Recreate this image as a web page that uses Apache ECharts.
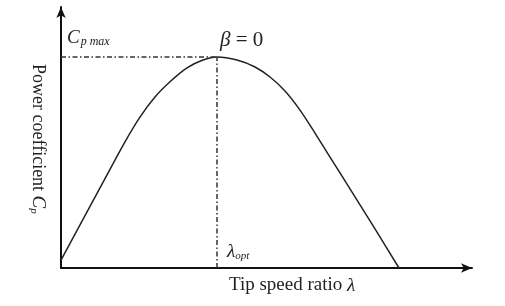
<!DOCTYPE html>
<html>
<head>
<meta charset="utf-8">
<script src="https://cdn.jsdelivr.net/npm/echarts@6/dist/echarts.min.js"></script>
<style>
html,body{margin:0;padding:0;background:#fff;}
#chart{width:505px;height:306px;}
</style>
</head>
<body>
<div id="chart"></div>
<script>
// Tip speed ratio (arbitrary units) and power coefficient values
var lambdaValues = [0, 1.3, 2.133, 2.633, 3.133, 3.633, 4.2, 4.733, 5.2, 5.867, 6.467, 6.967, 7.467, 7.967, 8.467, 8.967, 9.633, 10.467, 11.267];
var cpValues     = [0.018, 0.184, 0.29, 0.347, 0.393, 0.428, 0.46, 0.478, 0.485, 0.478, 0.462, 0.439, 0.407, 0.363, 0.31, 0.255, 0.182, 0.09, 0];
var lambdaOpt = 5.2;
var cpMax = 0.485;
var xMax = 13.7;
var yMax = 0.6;

var seriesData = lambdaValues.map(function (l, i) { return [l, cpValues[i]]; });

var chart = echarts.init(document.getElementById('chart'), null, {renderer: 'canvas'});
var serif = '"Liberation Serif", "DejaVu Serif", serif';
var dashDot = [5, 2.5, 1.5, 2.5];

chart.setOption({
  animation: false,
  backgroundColor: '#fff',
  grid: {left: 61, right: 33, top: 7, bottom: 38, containLabel: false},
  xAxis: {
    type: 'value', min: 0, max: xMax,
    axisLine: {show: true, onZero: false, symbol: ['none', 'arrow'], symbolSize: [7, 11], lineStyle: {color: '#111', width: 2}},
    axisTick: {show: false}, axisLabel: {show: false}, splitLine: {show: false}
  },
  yAxis: {
    type: 'value', min: 0, max: yMax,
    axisLine: {show: true, onZero: false, symbol: ['none', 'arrow'], symbolSize: [7, 11], lineStyle: {color: '#111', width: 2}},
    axisTick: {show: false}, axisLabel: {show: false}, splitLine: {show: false}
  },
  series: [{
    type: 'line',
    data: seriesData,
    smooth: 0.3,
    showSymbol: false,
    lineStyle: {color: '#222', width: 1.5},
    markLine: {
      silent: true,
      symbol: 'none',
      label: {show: false},
      lineStyle: {color: '#333', width: 1.5, type: dashDot},
      data: [
        [{coord: [0, cpMax]}, {coord: [lambdaOpt, cpMax]}],
        [{coord: [lambdaOpt, 0]}, {coord: [lambdaOpt, cpMax]}]
      ]
    }
  }],
  graphic: [
    {
      type: 'text', x: 67, y: 27,
      style: {
        text: '{c|C}{s|p max}',
        rich: {
          c: {fontFamily: serif, fontStyle: 'italic', fontSize: 19, fill: '#222'},
          s: {fontFamily: serif, fontStyle: 'italic', fontSize: 12, fill: '#222', padding: [9, 0, 0, 1]}
        }
      }
    },
    {
      type: 'text', x: 220, y: 30,
      style: {
        text: '{b|β}{e| = 0}',
        rich: {
          b: {fontFamily: serif, fontStyle: 'italic', fontSize: 21, fill: '#222'},
          e: {fontFamily: serif, fontSize: 21, fill: '#222'}
        }
      }
    },
    {
      type: 'text', x: 227, y: 242,
      style: {
        text: '{l|λ}{s|opt}',
        rich: {
          l: {fontFamily: serif, fontStyle: 'italic', fontSize: 19, fill: '#222'},
          s: {fontFamily: serif, fontStyle: 'italic', fontSize: 11, fill: '#222', padding: [9, 0, 0, 0]}
        }
      }
    },
    {
      type: 'text', x: 229, y: 276,
      style: {
        text: '{t|Tip speed ratio }{l|λ}',
        rich: {
          t: {fontFamily: serif, fontSize: 19, fill: '#222'},
          l: {fontFamily: serif, fontStyle: 'italic', fontSize: 19, fill: '#222'}
        }
      }
    },
    {
      type: 'text', x: 48, y: 64, rotation: -Math.PI / 2,
      style: {
        text: '{t|Power coefficient }{c|C}{s|p}',
        rich: {
          t: {fontFamily: serif, fontSize: 18, fill: '#222'},
          c: {fontFamily: serif, fontStyle: 'italic', fontSize: 19, fill: '#222'},
          s: {fontFamily: serif, fontStyle: 'italic', fontSize: 11, fill: '#222', padding: [9, 0, 0, 0]}
        }
      }
    }
  ]
});
</script>
</body>
</html>
